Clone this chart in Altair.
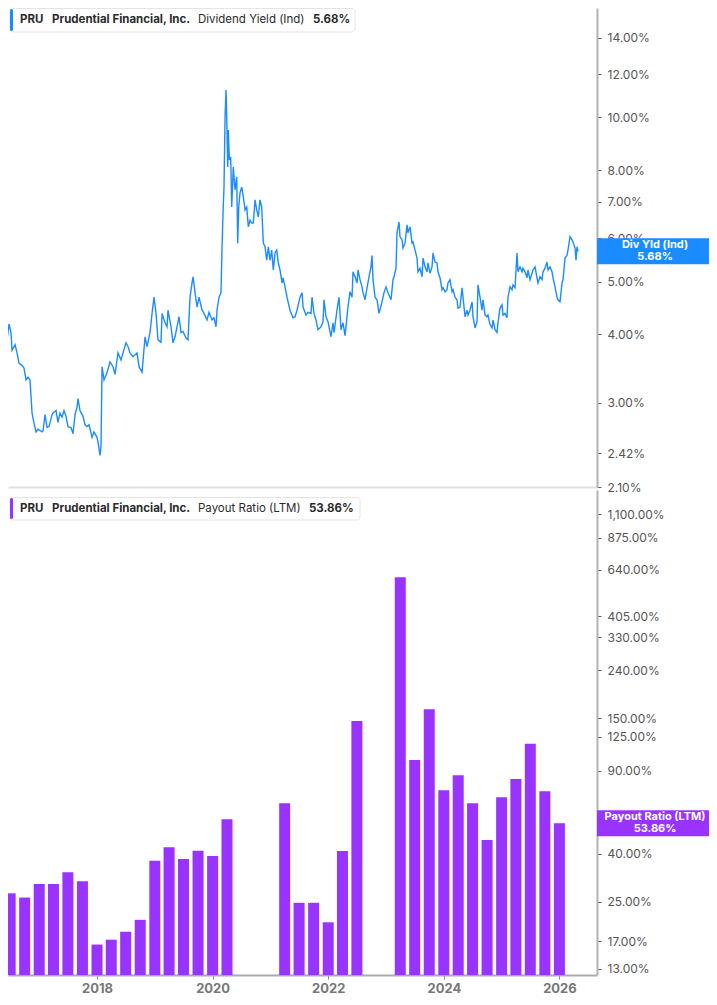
import altair as alt
import pandas as pd

# PRU dividend yield (Ind), in %, by decimal year
yield_years = [
    2016.322, 2016.374, 2016.409, 2016.443, 2016.478, 2016.512, 2016.530, 2016.582, 2016.616, 2016.651,
    2016.703, 2016.737, 2016.772, 2016.806, 2016.841, 2016.876, 2016.910, 2016.945, 2016.979, 2017.049,
    2017.066, 2017.101, 2017.135, 2017.170, 2017.222, 2017.239, 2017.291, 2017.325, 2017.360, 2017.395,
    2017.429, 2017.464, 2017.498, 2017.550, 2017.585, 2017.620, 2017.654, 2017.671, 2017.706, 2017.758,
    2017.793, 2017.827, 2017.862, 2017.914, 2017.948, 2018.000, 2018.017, 2018.052, 2018.069, 2018.087,
    2018.121, 2018.173, 2018.225, 2018.277, 2018.312, 2018.363, 2018.415, 2018.450, 2018.502, 2018.536,
    2018.571, 2018.623, 2018.692, 2018.727, 2018.779, 2018.831, 2018.865, 2018.917, 2018.952, 2018.986,
    2019.021, 2019.055, 2019.107, 2019.125, 2019.177, 2019.211, 2019.228, 2019.280, 2019.315, 2019.350,
    2019.384, 2019.419, 2019.453, 2019.488, 2019.540, 2019.574, 2019.609, 2019.644, 2019.661, 2019.696,
    2019.730, 2019.765, 2019.817, 2019.851, 2019.903, 2019.938, 2019.990, 2020.024, 2020.059, 2020.076,
    2020.111, 2020.145, 2020.163, 2020.180, 2020.197, 2020.215, 2020.232, 2020.249, 2020.261, 2020.272,
    2020.289, 2020.313, 2020.330, 2020.358, 2020.388, 2020.417, 2020.434, 2020.452, 2020.474, 2020.503,
    2020.531, 2020.561, 2020.590, 2020.618, 2020.647, 2020.676, 2020.704, 2020.734, 2020.763, 2020.791,
    2020.820, 2020.849, 2020.877, 2020.907, 2020.936, 2020.964, 2020.993, 2021.022, 2021.050, 2021.080,
    2021.109, 2021.137, 2021.166, 2021.201, 2021.218, 2021.253, 2021.287, 2021.339, 2021.391, 2021.426,
    2021.460, 2021.512, 2021.547, 2021.564, 2021.616, 2021.650, 2021.702, 2021.720, 2021.754, 2021.789,
    2021.823, 2021.875, 2021.910, 2021.927, 2021.962, 2021.996, 2022.048, 2022.083, 2022.100, 2022.152,
    2022.187, 2022.221, 2022.256, 2022.291, 2022.325, 2022.342, 2022.377, 2022.412, 2022.429, 2022.464,
    2022.498, 2022.515, 2022.550, 2022.585, 2022.602, 2022.637, 2022.671, 2022.706, 2022.740, 2022.758,
    2022.775, 2022.810, 2022.844, 2022.879, 2022.931, 2022.965, 2023.000, 2023.034, 2023.086, 2023.121,
    2023.138, 2023.173, 2023.190, 2023.225, 2023.242, 2023.277, 2023.294, 2023.329, 2023.363, 2023.380,
    2023.415, 2023.450, 2023.467, 2023.502, 2023.536, 2023.553, 2023.588, 2023.623, 2023.640, 2023.675,
    2023.709, 2023.726, 2023.761, 2023.796, 2023.813, 2023.848, 2023.882, 2023.899, 2023.934, 2023.969,
    2023.986, 2024.021, 2024.055, 2024.072, 2024.107, 2024.142, 2024.159, 2024.194, 2024.228, 2024.245,
    2024.280, 2024.315, 2024.332, 2024.367, 2024.401, 2024.418, 2024.453, 2024.488, 2024.505, 2024.540,
    2024.574, 2024.591, 2024.626, 2024.661, 2024.678, 2024.713, 2024.747, 2024.764, 2024.799, 2024.834,
    2024.851, 2024.886, 2024.920, 2024.937, 2024.972, 2025.007, 2025.024, 2025.059, 2025.093, 2025.110,
    2025.145, 2025.180, 2025.197, 2025.232, 2025.266, 2025.283, 2025.318, 2025.353, 2025.370, 2025.405,
    2025.439, 2025.456, 2025.491, 2025.526, 2025.543, 2025.578, 2025.612, 2025.629, 2025.664, 2025.699,
    2025.716, 2025.751, 2025.785, 2025.802, 2025.837, 2025.872, 2025.889, 2025.924, 2025.958, 2025.975,
    2026.010, 2026.045, 2026.062, 2026.097, 2026.131, 2026.148, 2026.183, 2026.218, 2026.235, 2026.270,
    2026.287, 2026.304, 2026.321,
]
yield_values = [
    3.70, 3.54, 3.70, 3.91, 4.18, 4.03, 3.74, 3.83, 3.70, 3.54,
    3.51, 3.47, 3.30, 3.34, 3.30, 2.87, 2.75, 2.65, 2.68, 2.65,
    2.66, 2.85, 2.70, 2.71, 2.85, 2.87, 2.90, 2.76, 2.87, 2.82,
    2.90, 2.83, 2.71, 2.70, 2.63, 2.85, 2.94, 3.05, 2.90, 2.83,
    2.73, 2.71, 2.73, 2.59, 2.65, 2.59, 2.54, 2.40, 2.49, 3.49,
    3.30, 3.40, 3.56, 3.49, 3.38, 3.70, 3.59, 3.70, 3.86, 3.80,
    3.70, 3.64, 3.70, 3.49, 3.41, 3.96, 3.80, 4.03, 4.37, 4.68,
    4.37, 3.91, 3.87, 4.37, 4.20, 4.13, 4.43, 4.13, 3.86, 3.96,
    4.13, 4.31, 4.03, 4.05, 3.94, 3.91, 4.68, 4.97, 5.10, 4.77,
    4.49, 4.68, 4.43, 4.37, 4.25, 4.39, 4.25, 4.29, 4.13, 4.43,
    4.68, 4.77, 5.79, 6.68, 7.45, 10.00, 11.23, 9.48, 8.11, 9.48,
    8.35, 8.46, 6.85, 8.11, 7.36, 7.78, 5.88, 6.85, 7.27, 7.45,
    7.15, 6.76, 6.85, 6.30, 6.48, 6.40, 6.40, 7.06, 6.76, 6.57,
    7.06, 6.85, 5.88, 5.79, 5.47, 5.79, 5.47, 5.71, 5.25, 5.64,
    5.71, 5.41, 5.25, 4.97, 5.08, 4.89, 4.68, 4.43, 4.29, 4.31,
    4.43, 4.68, 4.77, 4.49, 4.34, 4.39, 4.37, 4.68, 4.37, 4.25,
    4.08, 4.13, 4.22, 4.63, 4.31, 4.22, 3.96, 4.20, 4.03, 4.43,
    4.68, 4.08, 4.20, 3.98, 4.31, 4.49, 4.79, 4.68, 5.21, 5.10,
    4.97, 5.25, 5.04, 4.89, 4.77, 4.63, 4.87, 5.10, 5.32, 5.58,
    5.04, 4.68, 4.63, 4.37, 4.59, 4.77, 4.89, 4.77, 4.63, 5.04,
    5.10, 5.29, 6.14, 6.43, 6.04, 5.96, 5.76, 5.88, 6.35, 6.14,
    6.30, 5.88, 5.91, 5.71, 5.52, 5.21, 5.29, 5.10, 5.52, 5.32,
    5.21, 5.41, 5.18, 5.32, 5.64, 5.43, 5.41, 5.21, 5.08, 4.83,
    4.87, 4.79, 4.83, 4.97, 5.04, 4.79, 4.83, 4.68, 4.63, 4.47,
    4.49, 4.87, 4.68, 4.31, 4.43, 4.34, 4.43, 4.59, 4.31, 4.11,
    4.22, 4.93, 4.68, 4.43, 4.63, 4.34, 4.31, 4.34, 4.17, 4.11,
    4.25, 4.08, 4.03, 4.20, 4.47, 4.53, 4.34, 4.37, 4.29, 4.68,
    4.89, 4.83, 4.93, 4.87, 5.64, 5.21, 5.32, 5.21, 5.29, 5.21,
    5.08, 5.25, 5.04, 5.18, 5.25, 5.32, 5.08, 4.97, 5.10, 5.04,
    5.21, 5.29, 5.43, 5.25, 5.32, 5.21, 5.08, 4.89, 4.68, 4.63,
    4.59, 4.97, 5.04, 5.52, 5.58, 5.71, 6.04, 5.96, 5.91, 5.76,
    5.47, 5.79, 5.68,
]

# payout ratio (LTM), in %, by quarter; None = negative earnings, no bar
payout_quarters = [
    "2016Q1", "2016Q2", "2016Q3", "2016Q4", "2017Q1", "2017Q2", "2017Q3", "2017Q4",
    "2018Q1", "2018Q2", "2018Q3", "2018Q4", "2019Q1", "2019Q2", "2019Q3", "2019Q4",
    "2020Q1", "2020Q2", "2020Q3", "2020Q4", "2021Q1", "2021Q2", "2021Q3", "2021Q4",
    "2022Q1", "2022Q2", "2022Q3", "2022Q4", "2023Q1", "2023Q2", "2023Q3", "2023Q4",
    "2024Q1", "2024Q2", "2024Q3", "2024Q4", "2025Q1", "2025Q2", "2025Q3", "2025Q4",
]
payout_values = [
    23.7, 27.2, 26.1, 29.8, 29.8, 33.4, 30.6, 16.5,
    17.3, 18.7, 21.0, 37.4, 42.6, 38.0, 41.2, 39.1,
    56.0, None, None, None, 65.5, 24.8, 24.8, 20.5,
    41.1, 146.0, None, None, 594.0, 99.9, 164.0, 74.3,
    86.0, 65.5, 45.8, 69.4, 83.0, 117.0, 73.6, 53.86,
]

yield_ticks = [2.10, 2.42, 3, 4, 5, 6, 7, 8, 10, 12, 14]
payout_ticks = [13, 17, 25, 40, 90, 125, 150, 240, 330, 405, 640, 875, 1100]
year_ticks = [2018, 2020, 2022, 2024, 2026]

ticker = "PRU"
company = "Prudential Financial, Inc."
yield_name = "Dividend Yield (Ind)"
yield_short = "Div Yld (Ind)"
payout_name = "Payout Ratio (LTM)"
yield_last = 5.68
payout_last = 53.86

BLUE = "#1a8cff"
PURPLE = "#9933ff"
FONT = "Inter"
W = 589
TAG_W = 112
X_DOMAIN = [2016.46, 2026.65]
YIELD_DOMAIN = [2.1, 15.87]
PAYOUT_DOMAIN = [12.26, 1391]


def quarter_end(q):
    end = pd.Period(q, freq="Q").end_time
    return end.year + end.dayofyear / (366 if end.is_leap_year else 365)


line_df = pd.DataFrame({"year": yield_years, "value": yield_values})
bar_df = pd.DataFrame({"year": [quarter_end(q) for q in payout_quarters],
                       "value": payout_values}).dropna()
one = pd.DataFrame({"k": [0]})

pct = "format(datum.value, ',.2f') + '%'"
y_axis_style = dict(orient="right", title=None, grid=False, domainColor="#b3b3b3", domainWidth=2,
                    tickColor="#666", tickSize=4, labelColor="#555", labelFont=FONT, labelFontSize=12,
                    labelPadding=6, labelOverlap=False, labelExpr=pct)


def header(y0, y1, right, color, metric, last, x_metric, x_last):
    yc = (y0 + y1) / 2
    box = alt.Chart(one).mark_rect(fill="white", stroke="#e4e4e4", strokeWidth=1, cornerRadius=3).encode(
        x=alt.value(2), x2=alt.value(right), y=alt.value(y0 + 0.5), y2=alt.value(y1))
    strip = alt.Chart(one).mark_rect(fill=color, cornerRadius=1.5).encode(
        x=alt.value(2), x2=alt.value(5), y=alt.value(y0 + 1), y2=alt.value(y1 - 1))
    parts = [(ticker, 12, "bold"), (company, 44, "bold"), (metric, x_metric, "normal"), (last, x_last, "bold")]
    texts = [alt.Chart(one).mark_text(align="left", baseline="middle", font=FONT, fontSize=11.5,
                                      fontWeight=fw, color="#2b2b2b").encode(
        x=alt.value(xp), y=alt.value(yc), text=alt.value(t)) for t, xp, fw in parts]
    return [box, strip] + texts


def value_tag(value, color, label, y_enc):
    df = pd.DataFrame({"value": [value]})
    box = alt.Chart(df).mark_rect(fill=color, yOffset=-13, y2Offset=13).encode(
        x=alt.value(W), x2=alt.value(W + TAG_W), y=y_enc, y2="value:Q")
    t1 = alt.Chart(df).mark_text(font=FONT, fontSize=11, fontWeight="bold", color="white", dy=-6).encode(
        x=alt.value(W + TAG_W / 2 + 2), y=y_enc, text=alt.value(label))
    t2 = alt.Chart(df).mark_text(font=FONT, fontSize=11, fontWeight="bold", color="white", dy=6).encode(
        x=alt.value(W + TAG_W / 2 + 2), y=y_enc, text=alt.value(f"{value:.2f}%"))
    return [box, t1, t2]


# top panel: dividend yield line
x_top = alt.X("year:Q", scale=alt.Scale(domain=X_DOMAIN, nice=False, zero=False),
              axis=alt.Axis(labels=False, ticks=False, title=None, grid=False,
                            domainColor="#e2e2e2", domainWidth=2))
y_top = alt.Y("value:Q", scale=alt.Scale(type="log", domain=YIELD_DOMAIN, nice=False),
              axis=alt.Axis(values=yield_ticks, **y_axis_style))

line = alt.Chart(line_df).mark_line(color=BLUE, strokeWidth=1.4, clip=True).encode(x=x_top, y=y_top)
top = alt.layer(line, *header(0, 24, 347, BLUE, yield_name, f"{yield_last:.2f}%", 190, 305),
                *value_tag(yield_last, BLUE, yield_short, y_top)).properties(width=W, height=479)

# bottom panel: payout ratio bars, drawn up from the bottom of the log axis
x_bot = alt.X("year:Q", scale=alt.Scale(domain=X_DOMAIN, nice=False, zero=False, padding=0),
              axis=alt.Axis(values=year_ticks, format="d", title=None, grid=False,
                            domainColor="#aaaaaa", domainWidth=2, tickColor="#888", tickSize=4,
                            labelColor="#777", labelFont=FONT, labelFontSize=13, labelFontWeight="bold",
                            labelPadding=3))
y_bot = alt.Y("value:Q", scale=alt.Scale(type="log", domain=PAYOUT_DOMAIN, nice=False, padding=0),
              axis=alt.Axis(values=payout_ticks, **y_axis_style))

bars = alt.Chart(bar_df).mark_bar(color=PURPLE, size=11, clip=True).encode(
    x=x_bot, y=y_bot, y2=alt.datum(PAYOUT_DOMAIN[0]))
bottom = alt.layer(bars, *header(7, 30, 352, PURPLE, payout_name, f"{payout_last:.2f}%", 190, 301),
                   *value_tag(payout_last, PURPLE, payout_name, y_bot)).properties(width=W, height=485)

chart = (alt.vconcat(top, bottom, spacing=3, bounds="flush")
         .resolve_scale(y="independent")
         .properties(padding=0, background="white")
         .configure_view(stroke=None))

chart.save("out.html", embed_options={"renderer": "svg", "actions": False})
